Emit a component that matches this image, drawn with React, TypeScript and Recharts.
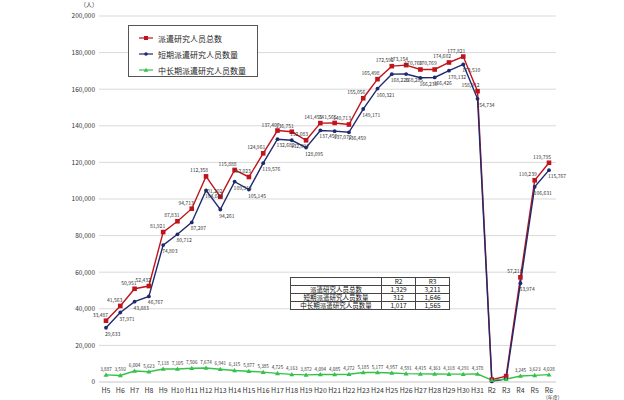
import React from "react";
import {
  CartesianGrid,
  LabelList,
  Legend,
  Line,
  LineChart,
  XAxis,
  YAxis,
} from "recharts";

const years = [
  "H5", "H6", "H7", "H8", "H9", "H10", "H11", "H12", "H13", "H14", "H15", "H16",
  "H17", "H18", "H19", "H20", "H21", "H22", "H23", "H24", "H25", "H26", "H27",
  "H28", "H29", "H30", "H31", "R2", "R3", "R4", "R5", "R6",
];

// 派遣研究人员总数
const totalResearchers = [
  33487, 41563, 50951, 52432, 81921, 87831, 94713, 112358, 101202, 115888, 112023,
  124961, 137407, 136751, 132083, 141455, 141565, 140713, 155056, 165498, 172592,
  173154, 170769, 170769, 174602, 177821, 158912, 1329, 3211, 57218, 110239, 119795,
];

// 短期派遣研究人员数量
const shortTerm = [
  29633, 37971, 43883, 46767, 74803, 80712, 87207, 104684, 94261, 109513, 105145,
  119576, 132682, 132094, 128095, 137450, 137072, 136459, 149171, 160321, 168225,
  168285, 166239, 166426, 170132, 173510, 154734, 312, 1646, 53974, 106631, 115767,
];

// 中长期派遣研究人员数量
const longTerm = [
  3887, 3592, 6004, 5623, 7118, 7105, 7506, 7674, 6941, 6315, 5877, 5385, 4725,
  4163, 3872, 4094, 4085, 4272, 5185, 5177, 4957, 4591, 4415, 4363, 4318, 4291,
  4378, 1017, 1565, 3245, 3623, 4028,
];

const yTicks = [0, 20000, 40000, 60000, 80000, 100000, 120000, 140000, 160000, 180000, 200000];

// years that are only shown in the small table
const tableYears = ["R2", "R3"];
const tableRows = [
  { name: "派遣研究人员总数", r2: "1,329", r3: "3,211" },
  { name: "短期派遣研究人员数量", r2: "312", r3: "1,646" },
  { name: "中长期派遣研究人员数量", r2: "1,017", r3: "1,565" },
];

const RED = "#c0141c";
const NAVY = "#1f2a6e";
const GREEN = "#35c24a";
const FONT = '"Noto Sans CJK SC", "Noto Sans", sans-serif';

const chartData = years.map((y, i) => ({
  year: y,
  total: totalResearchers[i],
  short: shortTerm[i],
  long: longTerm[i],
}));

const fmt = (v: number) => v.toLocaleString("en-US");

const SquareDot = (props: any) => {
  const { cx, cy, key } = props;
  if (cx == null || cy == null) return null;
  return <rect key={key} x={cx - 2.3} y={cy - 2.3} width={4.6} height={4.6} fill={RED} />;
};

const RoundDot = (props: any) => {
  const { cx, cy, key } = props;
  if (cx == null || cy == null) return null;
  return <circle key={key} cx={cx} cy={cy} r={1.9} fill={NAVY} />;
};

const TriangleDot = (props: any) => {
  const { cx, cy, key } = props;
  if (cx == null || cy == null) return null;
  return (
    <path
      key={key}
      d={`M${cx},${cy - 2.5} L${cx + 2.5},${cy + 1.8} L${cx - 2.5},${cy + 1.8} Z`}
      fill={GREEN}
    />
  );
};

const makeLabel = (
  dx: number,
  dy: number,
  anchor: "start" | "middle" | "end",
  size: number
) =>
  (props: any) => {
    const { x, y, value, index } = props;
    if (tableYears.includes(years[index])) return null;
    return (
      <text
        x={x + dx}
        y={y + dy}
        fontSize={size}
        fontFamily={FONT}
        textAnchor={anchor}
        fill="#333"
      >
        {fmt(value)}
      </text>
    );
  };

const LegendBox = () => {
  const items = [
    { label: "派遣研究人员总数", color: RED, shape: "square" },
    { label: "短期派遣研究人员数量", color: NAVY, shape: "circle" },
    { label: "中长期派遣研究人员数量", color: GREEN, shape: "triangle" },
  ];
  return (
    <div
      style={{
        border: "1px solid #555",
        background: "#fff",
        width: 130,
        height: 52,
        boxSizing: "border-box",
        padding: "4px 0 0 10px",
        fontFamily: FONT,
      }}
    >
      {items.map((it) => (
        <div key={it.label} style={{ display: "flex", alignItems: "center", height: 16 }}>
          <svg width={14} height={8} style={{ marginRight: 5 }}>
            <line x1={0} y1={4} x2={14} y2={4} stroke={it.color} strokeWidth={1.2} />
            {it.shape === "square" && <rect x={5} y={2} width={4} height={4} fill={it.color} />}
            {it.shape === "circle" && <circle cx={7} cy={4} r={1.8} fill={it.color} />}
            {it.shape === "triangle" && <path d="M7,1.8 L9.3,5.8 L4.7,5.8 Z" fill={it.color} />}
          </svg>
          <span style={{ fontSize: 8, color: "#222", whiteSpace: "nowrap" }}>{it.label}</span>
        </div>
      ))}
    </div>
  );
};

const cell: React.CSSProperties = {
  border: "1px solid #444",
  padding: 0,
  height: 7,
  lineHeight: "7px",
  textAlign: "center",
};

export default function App() {
  return (
    <div
      style={{
        position: "absolute",
        left: 0,
        top: 0,
        width: 624,
        height: 400,
        background: "#fff",
        fontFamily: FONT,
      }}
    >
      <LineChart
        width={624}
        height={400}
        data={chartData}
        margin={{ top: 16, right: 68, left: 0, bottom: 0 }}
      >
        <CartesianGrid horizontal vertical={false} stroke="#d9d9d9" strokeWidth={1} />
        <XAxis
          dataKey="year"
          height={18}
          padding={{ left: 7, right: 7 }}
          tickLine={false}
          tickSize={0}
          tickMargin={6}
          axisLine={{ stroke: "#d9d9d9" }}
          interval={0}
          tick={{ fontSize: 7, fill: "#333", fontFamily: FONT }}
        />
        <YAxis
          width={99}
          domain={[0, 200000]}
          ticks={yTicks}
          tickLine={false}
          tickSize={0}
          tickMargin={4}
          axisLine={false}
          tickFormatter={(v) => fmt(v)}
          tick={{ fontSize: 6.5, fill: "#333", fontFamily: FONT }}
        />
        <Legend
          layout="vertical"
          align="center"
          verticalAlign="middle"
          wrapperStyle={{ left: 128, top: 25, width: 132 }}
          content={() => <LegendBox />}
        />
        <Line
          dataKey="total"
          name="派遣研究人员总数"
          stroke={RED}
          strokeWidth={1.4}
          dot={SquareDot}
          activeDot={false}
          isAnimationActive={false}
        >
          <LabelList dataKey="total" content={makeLabel(2, -4, "end", 5)} />
        </Line>
        <Line
          dataKey="short"
          name="短期派遣研究人员数量"
          stroke={NAVY}
          strokeWidth={1.4}
          dot={RoundDot}
          activeDot={false}
          isAnimationActive={false}
        >
          <LabelList dataKey="short" content={makeLabel(-1, 8, "start", 5)} />
        </Line>
        <Line
          dataKey="long"
          name="中长期派遣研究人员数量"
          stroke={GREEN}
          strokeWidth={1.4}
          dot={TriangleDot}
          activeDot={false}
          isAnimationActive={false}
        >
          <LabelList dataKey="long" content={makeLabel(0, -4, "middle", 4.6)} />
        </Line>
      </LineChart>

      <div style={{ position: "absolute", left: 80, top: 0, fontSize: 6, color: "#333" }}>
        （人）
      </div>
      <div style={{ position: "absolute", left: 546, top: 393, fontSize: 5, color: "#333" }}>
        (年度)
      </div>

      <table
        style={{
          position: "absolute",
          left: 290,
          top: 277,
          width: 160,
          borderCollapse: "collapse",
          fontSize: 6.5,
          color: "#111",
          background: "#fff",
          fontFamily: FONT,
        }}
      >
        <tbody>
          <tr>
            <td style={{ ...cell, width: 90 }}></td>
            <td style={cell}>{tableYears[0]}</td>
            <td style={cell}>{tableYears[1]}</td>
          </tr>
          {tableRows.map((r) => (
            <tr key={r.name}>
              <td style={{ ...cell, whiteSpace: "nowrap" }}>{r.name}</td>
              <td style={cell}>{r.r2}</td>
              <td style={cell}>{r.r3}</td>
            </tr>
          ))}
        </tbody>
      </table>
    </div>
  );
}
